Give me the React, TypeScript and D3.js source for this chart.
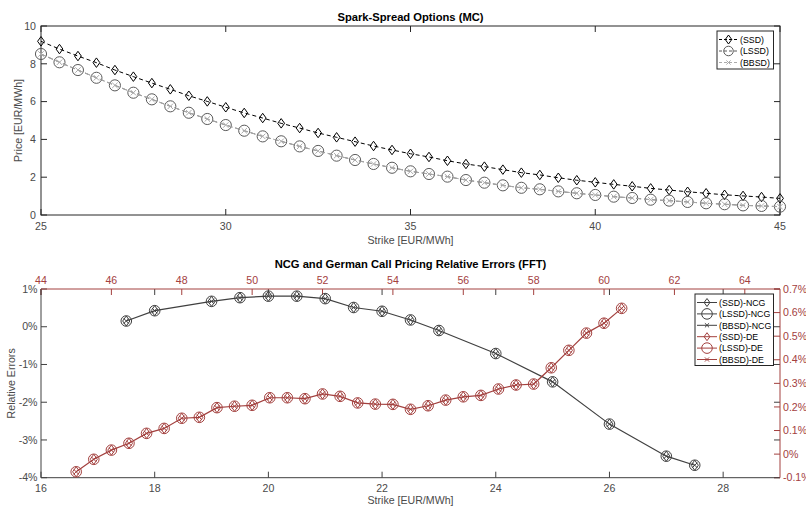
import React from "react";
import * as d3 from "d3";

// ---------- Top chart data ----------
const strikesMC = [25, 25.5, 26, 26.5, 27, 27.5, 28, 28.5, 29, 29.5, 30, 30.5, 31, 31.5, 32, 32.5, 33, 33.5, 34, 34.5, 35, 35.5, 36, 36.5, 37, 37.5, 38, 38.5, 39, 39.5, 40, 40.5, 41, 41.5, 42, 42.5, 43, 43.5, 44, 44.5, 45];
const ssdMC = [9.19, 8.78, 8.41, 8.06, 7.67, 7.32, 6.98, 6.65, 6.31, 6.01, 5.70, 5.40, 5.13, 4.85, 4.60, 4.34, 4.11, 3.88, 3.65, 3.44, 3.24, 3.07, 2.87, 2.70, 2.56, 2.40, 2.24, 2.12, 1.97, 1.84, 1.73, 1.62, 1.52, 1.41, 1.32, 1.23, 1.15, 1.07, 1.01, 0.95, 0.88];
const lssdMC = [8.52, 8.08, 7.67, 7.26, 6.86, 6.47, 6.12, 5.75, 5.41, 5.08, 4.76, 4.46, 4.16, 3.90, 3.63, 3.39, 3.14, 2.91, 2.70, 2.50, 2.31, 2.17, 2.03, 1.85, 1.71, 1.57, 1.44, 1.36, 1.25, 1.15, 1.06, 0.97, 0.90, 0.81, 0.76, 0.69, 0.62, 0.57, 0.51, 0.48, 0.44];
const bbsdMC = [8.52, 8.08, 7.67, 7.26, 6.86, 6.47, 6.12, 5.75, 5.41, 5.08, 4.76, 4.46, 4.16, 3.90, 3.63, 3.39, 3.14, 2.91, 2.70, 2.50, 2.31, 2.17, 2.03, 1.85, 1.71, 1.57, 1.44, 1.36, 1.25, 1.15, 1.06, 0.97, 0.90, 0.81, 0.76, 0.69, 0.62, 0.57, 0.51, 0.48, 0.44];
const topXTicks = [25, 30, 35, 40, 45];
const topYTicks = [0, 2, 4, 6, 8, 10];

// ---------- Bottom chart data ----------
const strikesNCG = [17.5, 18, 19, 19.5, 20, 20.5, 21, 21.5, 22, 22.5, 23, 24, 25, 26, 27, 27.5];
const errNCG = [0.152, 0.425, 0.673, 0.77, 0.81, 0.81, 0.745, 0.51, 0.41, 0.18, -0.10, -0.71, -1.46, -2.58, -3.43, -3.67];
const strikesDE = [45, 45.5, 46, 46.5, 47, 47.5, 48, 48.5, 49, 49.5, 50, 50.5, 51, 51.5, 52, 52.5, 53, 53.5, 54, 54.5, 55, 55.5, 56, 56.5, 57, 57.5, 58, 58.5, 59, 59.5, 60, 60.5];
const errDE = [-0.075, -0.022, 0.017, 0.046, 0.088, 0.109, 0.152, 0.156, 0.197, 0.203, 0.207, 0.239, 0.239, 0.235, 0.255, 0.245, 0.217, 0.212, 0.211, 0.190, 0.205, 0.229, 0.243, 0.249, 0.276, 0.293, 0.297, 0.366, 0.440, 0.513, 0.555, 0.618];
const botXTicks = [16, 18, 20, 22, 24, 26, 28];
const topAxisTicks = [44, 46, 48, 50, 52, 54, 56, 58, 60, 62, 64];
const leftYTicks = [-4, -3, -2, -1, 0, 1];
const rightYTicks = [-0.1, 0, 0.1, 0.2, 0.3, 0.4, 0.5, 0.6, 0.7];

const FONT = "'Liberation Sans', Arial, Helvetica, sans-serif";
const AX = "#262626";
const TXT = "#4a4a4a";
const DARK = "#404040";
const RED = "#a3403e";

type M = "d" | "o" | "x";
function Marker({ t, x, y, c, s = 1 }: { t: M; x: number; y: number; c: string; s?: number }) {
  if (t === "d")
    return <path d={`M${x},${y - 5 * s}L${x + 3.6 * s},${y}L${x},${y + 5 * s}L${x - 3.6 * s},${y}Z`} fill="none" stroke={c} strokeWidth={1} />;
  if (t === "o") return <circle cx={x} cy={y} r={5.3 * s} fill="none" stroke={c} strokeWidth={1} />;
  const k = 2.6 * s;
  return <path d={`M${x - k},${y - k}L${x + k},${y + k}M${x - k},${y + k}L${x + k},${y - k}`} stroke={c} strokeWidth={1} />;
}

function fmtPct(v: number) {
  const r = Math.round(v * 10) / 10;
  return (Object.is(r, -0) ? 0 : r) + "%";
}

export default function App() {
  // Top chart
  const tL = 41, tR = 780, tT = 26, tB = 215;
  const tx = d3.scaleLinear().domain([25, 45]).range([tL, tR]);
  const ty = d3.scaleLinear().domain([0, 10]).range([tB, tT]);
  const line = (xs: number[], ys: number[], sx: any, sy: any) =>
    d3.line<number>().x((_, i) => sx(xs[i])).y((d) => sy(d))(ys) as string;

  const topSeries = [
    { name: "(SSD)", ys: ssdMC, c: "#000000", m: "d" as M, dash: "4,3" },
    { name: "(LSSD)", ys: lssdMC, c: "#5a5a5a", m: "o" as M, dash: "5,3" },
    { name: "(BBSD)", ys: bbsdMC, c: "#ababab", m: "x" as M, dash: "5,3" },
  ];

  // Bottom chart
  const bL = 41, bR = 780, bT = 289, bB = 477.7;
  const bx = d3.scaleLinear().domain([16, 29]).range([bL, bR]);
  const bx2 = d3.scaleLinear().domain([44, 65]).range([bL, bR]);
  const by = d3.scaleLinear().domain([-4, 1]).range([bB, bT]);
  const by2 = d3.scaleLinear().domain([-0.1, 0.7]).range([bB, bT]);

  const botLegend = [
    { name: "(SSD)-NCG", c: DARK, m: "d" as M },
    { name: "(LSSD)-NCG", c: DARK, m: "o" as M },
    { name: "(BBSD)-NCG", c: DARK, m: "x" as M },
    { name: "(SSD)-DE", c: RED, m: "d" as M },
    { name: "(LSSD)-DE", c: RED, m: "o" as M },
    { name: "(BBSD)-DE", c: RED, m: "x" as M },
  ];

  const tk = 6;
  const FS = 10.6;

  return (
    <svg width={806} height={511} style={{ position: "absolute", left: 0, top: 0, background: "#fff" }} fontFamily={FONT}>
      <rect width={806} height={511} fill="#fff" />
      {/* ================= TOP CHART ================= */}
      <text x={(tL + tR) / 2} y={21} textAnchor="middle" fontSize={11.2} fontWeight="bold" fill="#000">Spark-Spread Options (MC)</text>
      {/* ticks */}
      {topXTicks.map((v) => (
        <g key={"tx" + v}>
          <line x1={tx(v)} x2={tx(v)} y1={tB} y2={tB - tk} stroke={AX} />
          <line x1={tx(v)} x2={tx(v)} y1={tT} y2={tT + tk} stroke={AX} />
          <text x={tx(v)} y={229.8} textAnchor="middle" fontSize={FS} fill={TXT}>{v}</text>
        </g>
      ))}
      {topYTicks.map((v) => (
        <g key={"ty" + v}>
          <line x1={tL} x2={tL + tk} y1={ty(v)} y2={ty(v)} stroke={AX} />
          <line x1={tR} x2={tR - tk} y1={ty(v)} y2={ty(v)} stroke={AX} />
          <text x={36} y={ty(v) + 3.7} textAnchor="end" fontSize={FS} fill={TXT}>{v}</text>
        </g>
      ))}
      <rect x={tL} y={tT} width={tR - tL} height={tB - tT} fill="none" stroke={AX} strokeWidth={1} />
      <text x={(tL + tR) / 2} y={243.8} textAnchor="middle" fontSize={FS} fill={TXT}>Strike [EUR/MWh]</text>
      <text transform={`translate(21.5,${(tT + tB) / 2}) rotate(-90)`} textAnchor="middle" fontSize={FS} fill={TXT}>Price [EUR/MWh]</text>
      {/* series */}
      {topSeries.map((s) => (
        <g key={s.name}>
          <path d={line(strikesMC, s.ys, tx, ty)} fill="none" stroke={s.c} strokeWidth={1} strokeDasharray={s.dash} />
          {s.ys.map((v, i) => (
            <Marker key={i} t={s.m} x={tx(strikesMC[i])} y={ty(v)} c={s.c} s={s.m === "d" ? 0.95 : 1.05} />
          ))}
        </g>
      ))}
      {/* top legend */}
      <rect x={717} y={31} width={56.5} height={38} fill="#fff" stroke={AX} />
      {topSeries.map((s, i) => {
        const yy = 39.5 + i * 11.5;
        return (
          <g key={"tl" + i}>
            <line x1={719} x2={738} y1={yy} y2={yy} stroke={s.c} strokeDasharray="3,2" />
            <Marker t={s.m} x={728.5} y={yy} c={s.c} s={s.m === "x" ? 0.8 : 0.9} />
            <text x={740} y={yy + 3.2} fontSize={8.8} fill="#000">{s.name}</text>
          </g>
        );
      })}

      {/* ================= BOTTOM CHART ================= */}
      <text x={(bL + bR) / 2} y={268} textAnchor="middle" fontSize={11.2} fontWeight="bold" fill="#000">NCG and German Call Pricing Relative Errors (FFT)</text>
      {/* bottom x ticks (mirrored on top) */}
      {botXTicks.map((v) => (
        <g key={"bx" + v}>
          <line x1={bx(v)} x2={bx(v)} y1={bB} y2={bB - tk} stroke={DARK} />
          <line x1={bx(v)} x2={bx(v)} y1={bT} y2={bT + tk} stroke={DARK} />
          <text x={bx(v)} y={492.3} textAnchor="middle" fontSize={FS} fill={TXT}>{v}</text>
        </g>
      ))}
      {/* left y ticks (mirrored on right) */}
      {leftYTicks.map((v) => (
        <g key={"ly" + v}>
          <line x1={bL} x2={bL + tk} y1={by(v)} y2={by(v)} stroke={DARK} />
          <line x1={bR} x2={bR - tk} y1={by(v)} y2={by(v)} stroke={DARK} />
          <text x={37.5} y={by(v) + 3.7} textAnchor="end" fontSize={FS} fill={TXT}>{fmtPct(v)}</text>
        </g>
      ))}
      {/* top x axis (red) */}
      {topAxisTicks.map((v) => (
        <g key={"t2" + v}>
          <line x1={bx2(v)} x2={bx2(v)} y1={bT} y2={bT + tk} stroke={RED} />
          <text x={bx2(v)} y={283.7} textAnchor="middle" fontSize={FS} fill={RED}>{v}</text>
        </g>
      ))}
      {/* right y axis (red) */}
      {rightYTicks.map((v) => (
        <g key={"r2" + v}>
          <line x1={bR} x2={bR - tk} y1={by2(v)} y2={by2(v)} stroke={RED} />
          <text x={783} y={by2(v) + 3.7} textAnchor="start" fontSize={FS} fill={RED}>{fmtPct(v)}</text>
        </g>
      ))}
      <line x1={bL} x2={bL} y1={bT} y2={bB} stroke={DARK} />
      <line x1={bL} x2={bR} y1={bB} y2={bB} stroke={DARK} />
      <line x1={bL} x2={bR} y1={bT} y2={bT} stroke={RED} />
      <line x1={bR} x2={bR} y1={bT} y2={bB} stroke={RED} />
      <text x={(bL + bR) / 2} y={504.3} textAnchor="middle" fontSize={FS} fill={TXT}>Strike [EUR/MWh]</text>
      <text transform={`translate(15,${(bT + bB) / 2}) rotate(-90)`} textAnchor="middle" fontSize={FS} fill={TXT}>Relative Errors</text>

      {/* NCG series */}
      <path d={line(strikesNCG, errNCG, bx, by)} fill="none" stroke={DARK} strokeWidth={1.2} />
      {(["d", "o", "x"] as M[]).map((m) =>
        errNCG.map((v, i) => <Marker key={m + i} t={m} x={bx(strikesNCG[i])} y={by(v)} c={DARK} />)
      )}
      {/* DE series */}
      <path d={line(strikesDE, errDE, bx2, by2)} fill="none" stroke={RED} strokeWidth={1.2} />
      {(["d", "o", "x"] as M[]).map((m) =>
        errDE.map((v, i) => <Marker key={m + "de" + i} t={m} x={bx2(strikesDE[i])} y={by2(v)} c={RED} />)
      )}

      {/* bottom legend */}
      <rect x={695} y={294} width={78.5} height={71.5} fill="#fff" stroke={AX} />
      {botLegend.map((s, i) => {
        const yy = 302.5 + i * 11.4;
        return (
          <g key={"bl" + i}>
            <line x1={697} x2={717} y1={yy} y2={yy} stroke={s.c} />
            <Marker t={s.m} x={707} y={yy} c={s.c} s={s.m === "o" ? 1.0 : 0.8} />
            <text x={719} y={yy + 3.2} fontSize={8.8} fill="#000">{s.name}</text>
          </g>
        );
      })}
    </svg>
  );
}
